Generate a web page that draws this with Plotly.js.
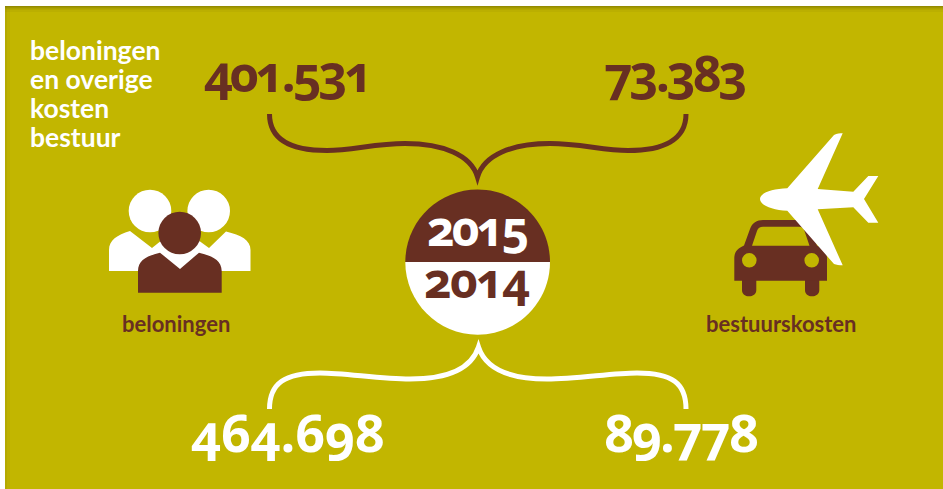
<!DOCTYPE html>
<html><head><meta charset="utf-8">
<script src="https://cdn.plot.ly/plotly-3.0.1.min.js"></script>
<style>html,body{margin:0;padding:0;background:#fff}
.annotation-text{font-feature-settings:"onum" 1;font-variant-numeric:oldstyle-nums}
.annotation[data-index="4"] .annotation-text{letter-spacing:-3px}
.annotation[data-index="5"] .annotation-text{letter-spacing:-3px}
.annotation[data-index="6"] .annotation-text{letter-spacing:-0.2px}
.annotation[data-index="7"] .annotation-text{letter-spacing:-2px}
.annotation[data-index="8"] .annotation-text{letter-spacing:-2.85px}
.annotation[data-index="9"] .annotation-text{letter-spacing:-1.6px}
</style>
</head><body><div id="c" style="width:943px;height:489px"></div>
<script>
// Content
const titleLines=["beloningen","en overige","kosten","bestuur"];
const categories=["beloningen","bestuurskosten"];
const years=["2015","2014"];
const values2015=["401.531","73.383"];
const values2014=["464.698","89.778"];
// Colours
const OLIVE="#C2B600", BROWN="#682F22", WHITE="#FFFFFF";

const path=(d,fill,line,w)=>({type:"path",path:d,fillcolor:fill||"rgba(0,0,0,0)",line:{color:line||"rgba(0,0,0,0)",width:w||0},layer:"above"});
const circle=(cx,cy,r,fill)=>({type:"circle",x0:cx-r,x1:cx+r,y0:cy-r,y1:cy+r,fillcolor:fill,line:{width:0},layer:"above"});
const rect=(x0,y0,x1,y1,fill,op)=>({type:"rect",x0,y0,x1,y1,fillcolor:fill,opacity:op==null?1:op,line:{width:0},layer:"above"});

const shapes=[
  rect(5,6,943,489,OLIVE),
  rect(5,6,943,7,"#6f6800",.55),rect(5,7,943,8,"#6f6800",.4),rect(5,8,943,9,"#6f6800",.26),
  rect(5,9,943,10,"#6f6800",.16),rect(5,10,943,12,"#6f6800",.08),
  rect(5,6,7,489,"#6f6800",.16),rect(7,6,10,489,"#6f6800",.06),
  path("M269.5,114 C269.5,140 292,150.5 327,150.5 C352,150.5 375,143.5 405,143.5 C443,143.5 471,155 477.5,177 C484,155 512,143.5 550,143.5 C580,143.5 603,150.5 628,150.5 C663,150.5 686,140 686,114",null,BROWN,5),
  path("M269.5,409 C269.5,383 285,373 320,373 C345,373 380,379 410,379 C450,379 472,367 478.5,347 C485,367 507,379 547,379 C577,379 612,373 637,373 C672,373 686,383 686,409",null,WHITE,5),
  path("M405.3,262 C405.3,222 437.7,189.5 477.7,189.5 C517.7,189.5 550,222 550,262 Z",BROWN),
  path("M405.3,262 C405.3,302 437.7,334.7 477.7,334.7 C517.7,334.7 550,302 550,262 Z",WHITE),
  circle(150,211,21.3,WHITE),circle(208.7,211,21.3,WHITE),
  path("M109,271 L109,250 C109,240 117,235 130,231 L152,248 L162,240 L198,240 L209,248 L226,231.5 C241,235 250.5,240 250.5,250 L250.5,271 Z",WHITE),
  circle(179.7,233,21.3,BROWN),
  path("M138,292.7 L138,271 C138,260 147,256 160,252.7 L180,269 L199,252.7 C212,256 221.7,260 221.7,271 L221.7,292.7 Z",BROWN),
  path("M742,278 L742,290 C742,294 745,296.3 749,296.3 C753,296.3 756.3,294 756.3,290 L756.3,278 Z",BROWN),
  path("M805,278 L805,290 C805,294 808,296.3 812,296.3 C816,296.3 819.3,294 819.3,290 L819.3,278 Z",BROWN),
  path("M734.3,280.7 L734.3,258 C734.3,252 738,248 744,245.5 L750,229 C752,223 757,220 763,220 L799,220 C805,220 809,223 811,229 L817,245.5 C823,248 827,252 827,258 L827,280.7 Z",BROWN),
  path("M752,245.7 L757,231 C758,228 760,226.7 763,226.7 L799,226.7 C802,226.7 803.5,228 804.5,231 L809.5,245.7 Z",OLIVE),
  circle(749.3,260.3,7.3,OLIVE),circle(811.7,260.3,7.3,OLIVE),
  path("M760,199 C760,193 772,188.8 787.3,188.3 L834,135 C837,133.5 840,133.3 842.7,133.3 L817.7,189 L853.3,191.7 L868.3,176 L878.3,176 L864,199 L878.3,222.7 L868.3,222.7 L853.3,207.3 L817.7,209.3 L842.7,265.3 C839,265.3 836.5,265 834,264 L787.3,210.7 C772,210 760,205 760,199 Z",WHITE)
];

const text=(x,y,t,size,color,anchor,fam)=>({x,y,text:t,showarrow:false,xanchor:anchor||"center",yanchor:"middle",xref:"x",yref:"y",align:"left",
  font:{family:fam||"Open Sans",size,weight:700,color}});
const annotations=[
  ...titleLines.map((t,i)=>text(27.5,49.5+i*29,t,26.5,WHITE,"left","Lato")),
  text(297.5,73.3,values2015[0],50,BROWN),
  text(683.5,73.3,values2015[1],50,BROWN),
  text(288,431.8,values2014[0],52,WHITE),
  text(686.5,431.8,values2014[1],52,WHITE),
  text(482.7,227.1,years[0],48,WHITE),
  text(479.5,279.4,years[1],48,BROWN),
  text(176,323.5,categories[0],22,BROWN,null,"Lato"),
  text(781.5,323.5,categories[1],22,BROWN,null,"Lato")
];
Plotly.newPlot("c",[],{width:943,height:489,margin:{l:0,r:0,t:0,b:0,pad:0},paper_bgcolor:"#fff",plot_bgcolor:"#fff",
  xaxis:{range:[0,943],visible:false,fixedrange:true},yaxis:{range:[489,0],visible:false,fixedrange:true},
  shapes,annotations,showlegend:false},{displayModeBar:false,staticPlot:true});
</script></body></html>
